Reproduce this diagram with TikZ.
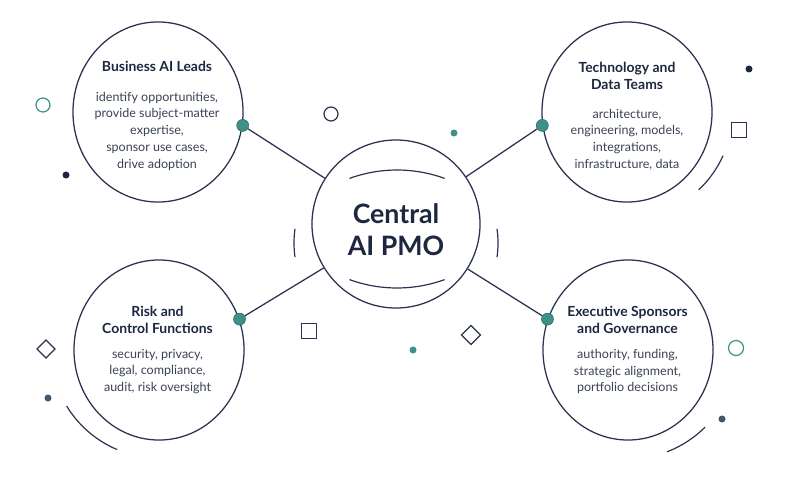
\documentclass[tikz,border=0pt]{standalone}
\usepackage{fontspec}
\setmainfont{Lato}
\usetikzlibrary{shapes.geometric,positioning}

\definecolor{navy}{HTML}{2A3350}
\definecolor{ink}{HTML}{1E2740}
\definecolor{bodyink}{HTML}{3A4256}
\definecolor{tealdot}{HTML}{3E9186}
\definecolor{darkdot}{HTML}{1C2645}
\definecolor{slatedot}{HTML}{41566A}

\tikzset{
  group/.style={ellipse, draw=navy, line width=0.9pt,
                minimum width=4.25cm, minimum height=4.5cm, inner sep=0pt},
  hub/.style={circle, draw=navy, line width=0.9pt,
              minimum size=4.2cm, inner sep=0pt},
  joint/.style={circle, fill=tealdot, draw=tealdot!75!black,
                line width=0.4pt, minimum size=0.3cm, inner sep=0pt},
  link/.style={draw=navy, line width=0.9pt},
  deco/.style={draw=navy, line width=0.85pt},
  grouptitle/.style={align=center, text=ink,
                     font=\fontsize{9.9}{12.1}\selectfont\bfseries},
  groupbody/.style={align=center, text=bodyink,
                    font=\fontsize{8.9}{11.9}\selectfont}
}

\begin{document}
\begin{tikzpicture}[x=0.025cm, y=-0.025cm]

  \fill [white] (0,0) rectangle (800,479);
  \useasboundingbox (0,0) rectangle (800,479);

  % hub
  \node [hub] (pmo) at (396,224) {};
  \node [align=center, text=ink, font=\fontsize{19}{22.7}\selectfont\bfseries]
        (pmoT) at (396,230) {Central\\AI PMO};
  \draw [deco] (349.5,178.4) arc[start angle=-110, end angle=-70, radius=139];
  \draw [deco] (349.5,279.6) arc[start angle=110, end angle=70, radius=139];
  \draw [deco] (295,257.2) arc[start angle=172, end angle=188, radius=102];
  \draw [deco] (497,228.8) arc[start angle=-8, end angle=8, radius=102];

  % groups
  \node [group] (biz) at (158,112) {};
  \node [grouptitle] (bizT) at (157,66.5) {Business AI Leads};
  \node [groupbody] (bizB) at (157,131) {identify opportunities,\\
    provide subject-matter\\ expertise,\\ sponsor use cases,\\ drive adoption};

  \node [group] (tech) at (627,112) {};
  \node [grouptitle] (techT) at (627,75.5) {Technology and\\ Data Teams};
  \node [groupbody] (techB) at (627,139.5) {architecture,\\
    engineering, models,\\ integrations,\\ infrastructure, data};

  \node [group] (risk) at (159,350) {};
  \node [grouptitle] (riskT) at (157.5,319.5) {Risk and\\ Control Functions};
  \node [groupbody] (riskB) at (157.5,371.5) {security, privacy,\\
    legal, compliance,\\ audit, risk oversight};

  \node [group] (exec) at (628,350) {};
  \node [grouptitle] (execT) at (627.5,319.5) {Executive Sponsors\\ and Governance};
  \node [groupbody] (execB) at (627.5,371.5) {authority, funding,\\
    strategic alignment,\\ portfolio decisions};

  % joints and links
  \node [joint] (bizJ) at (biz.-9) {};
  \node [joint] (techJ) at (tech.189) {};
  \node [joint] (riskJ) at (risk.21) {};
  \node [joint] (execJ) at (exec.159) {};

  \draw [link] (bizJ) -- (pmo);
  \draw [link] (techJ) -- (pmo);
  \draw [link] (riskJ) -- (pmo);
  \draw [link] (execJ) -- (pmo);

  % scattered marks
  \draw [draw=tealdot, line width=0.85pt] (43,105) circle[radius=7];
  \draw [draw=tealdot, line width=0.85pt] (736,348) circle[radius=7.5];
  \draw [deco] (331,114) circle[radius=7];
  \fill [darkdot] (66,175) circle[radius=3.5];
  \fill [darkdot] (749,69) circle[radius=3.5];
  \fill [tealdot] (454,133) circle[radius=3.5];
  \fill [tealdot] (413,350) circle[radius=3.5];
  \fill [slatedot] (48,398) circle[radius=3.5];
  \fill [slatedot] (722,419) circle[radius=3.5];
  \draw [deco] (731.5,122.5) rectangle (746.5,137.5);
  \draw [deco] (301.5,323.5) rectangle (316.5,338.5);
  \draw [deco] (471,325.5) -- (480.5,335) -- (471,344.5) -- (461.5,335) -- cycle;
  \draw [deco] (46,340) -- (55,349) -- (46,358) -- (37,349) -- cycle;
  \draw [deco] (723,155.7) arc[start angle=24, end angle=47, radius=105];
  \draw [deco] (66.7,406.1) arc[start angle=148.7, end angle=112.8, radius=108];
  \draw [deco] (705.1,427.1) arc[start angle=45, end angle=69, radius=109];

\end{tikzpicture}
\end{document}
